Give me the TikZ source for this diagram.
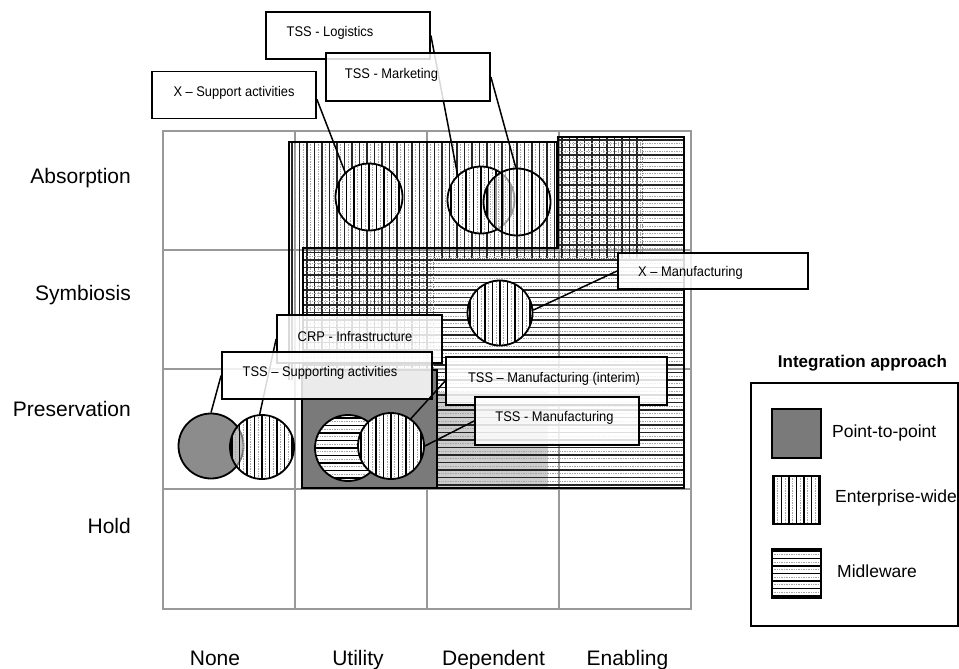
\documentclass[tikz,border=0pt]{standalone}
\usepackage{fontspec}
\setmainfont{Liberation Sans}
\newfontfamily\tagfont[FakeStretch=0.92]{Liberation Sans}
\usetikzlibrary{calc}

\tikzset{
  cell/.style={draw=gray!80, line width=1.6pt},
  zoneedge/.style={draw=black, line width=2.2pt},
  darkrule/.style={draw=black!85, line width=1.1pt},
  lightrule/.style={draw=gray!70, line width=0.7pt, densely dotted},
  tag/.style={draw=black, line width=1.8pt, fill=white, fill opacity=0.85, inner sep=0},
  tagtext/.style={font=\tagfont\fontsize{14}{16}\selectfont, inner sep=0},
  axislab/.style={font=\fontsize{21}{25}\selectfont, inner sep=0},
  keytext/.style={font=\fontsize{17.5}{20}\selectfont, inner sep=0, anchor=west},
  wire/.style={draw=black, line width=1.5pt},
  disc/.style={circle, draw=black, line width=1.8pt, inner sep=0, minimum size=#1},
  vfill/.style={path picture={
    \foreach \k in {-6,...,6}{
      \draw[black, line width=1.3pt]
        ([xshift={\k*7.5pt}]path picture bounding box.north) --
        ([xshift={\k*7.5pt}]path picture bounding box.south);
      \draw[lightrule]
        ([xshift={\k*7.5pt+3.75pt}]path picture bounding box.north) --
        ([xshift={\k*7.5pt+3.75pt}]path picture bounding box.south);
    }}},
  hfill/.style={path picture={
    \foreach \k in {-6,...,6}{
      \draw[black, line width=1.3pt]
        ([yshift={\k*7.5pt}]path picture bounding box.west) --
        ([yshift={\k*7.5pt}]path picture bounding box.east);
      \draw[lightrule]
        ([yshift={\k*7.5pt+3.75pt}]path picture bounding box.west) --
        ([yshift={\k*7.5pt+3.75pt}]path picture bounding box.east);
    }}},
  ptp/.style={fill=black!52},
}

\begin{document}
\begin{tikzpicture}[x=1pt, y=-1pt]
\useasboundingbox (0,0) rectangle (959,669);

% ---- 4 x 4 matrix ----
\draw[cell] (163,131) rectangle (691,609);
\foreach \gx in {295,427,559} \draw[cell] (\gx,131) -- (\gx,609);
\foreach \gy in {250,369,489} \draw[cell] (163,\gy) -- (691,\gy);

% ---- enterprise-wide zone (vertical rules) ----
\begin{scope}
  \clip (289,142) rectangle (558,248)
        (289,248) rectangle (433,380)
        (433,248) rectangle (642,258)
        (558,137) rectangle (642,258);
  \foreach \k in {0,...,47}{
    \draw[darkrule] ({292+7.5*\k},130) -- ++(0,260);
    \draw[lightrule] ({295.75+7.5*\k},130) -- ++(0,260);
  }
\end{scope}

% ---- midleware zone (horizontal rules) ----
\begin{scope}
  \clip (303,248) -- (558,248) -- (558,137) -- (684,137) -- (684,488)
        -- (437,488) -- (437,370) -- (303,370) -- cycle;
  \fill[gray!40] (437,392) rectangle (548,488);
  \foreach \k in {0,...,47}{
    \draw[darkrule] (300,{140+7.5*\k}) -- ++(390,0);
    \draw[lightrule] (300,{143.75+7.5*\k}) -- ++(390,0);
  }
\end{scope}
\draw[gray, densely dotted, line width=0.8pt] (433,488) -- (433,258) -- (684,258);
\draw[gray, densely dotted, line width=0.8pt] (642,139) -- (642,256);

% ---- zone outlines ----
\draw[zoneedge] (289,380) -- (289,142) -- (557,142) -- (557,248);
\draw[zoneedge] (303,370) -- (303,248) -- (558,248) -- (558,137)
      -- (684,137) -- (684,488) -- (437,488);
\draw[zoneedge, ptp] (302,370) rectangle (437,488);

% ---- initiatives ----
\node[disc=67pt, fill=white, vfill] (c1) at (369,197) {};
\node[disc=67pt, fill=white, vfill] (c2) at (481,200) {};
\node[disc=67pt, fill=white, fill opacity=0.6, vfill] (c3) at (517,202) {};
\node[disc=65pt, fill=white, vfill] (c4) at (500,313) {};
\node[disc=65pt, fill=black!45] (c5) at (211,446) {};
\node[disc=64pt, fill=white, fill opacity=0.45, vfill] (c6) at (262,447) {};
\node[disc=66pt, fill=white, hfill] (c7) at (348,448) {};
\node[disc=66pt, fill=white, vfill] (c8) at (391,446) {};

% ---- callouts ----
\node[tag, minimum width=164pt, minimum height=47pt] (supBox) at (234,95) {};
\node[tagtext] (supTxt) at (234,92.5) {X – Support activities};
\draw[wire] (supBox.-3.5) -- (c1.134);

\node[tag, minimum width=164pt, minimum height=47pt] (logBox) at (348,35.5) {};
\node[tagtext] (logTxt) at (330,33) {TSS - Logistics};
\draw[wire] (logBox.east) -- (c2.133);

\node[tag, minimum width=164pt, minimum height=48pt] (mktBox) at (408,77) {};
\node[tagtext] (mktTxt) at (391.5,75) {TSS - Marketing};
\draw[wire] (mktBox.east) -- (c3.92);

\node[tag, minimum width=190pt, minimum height=36pt] (xmfBox) at (713,271) {};
\node[tagtext] (xmfTxt) at (690.5,273) {X – Manufacturing};
\draw[wire] (xmfBox.west) -- (c4.5);

\node[tag, minimum width=165pt, minimum height=48pt] (crpBox) at (359.5,339) {};
\node[tagtext] (crpTxt) at (355,336.5) {CRP - Infrastructure};
\draw[wire] (crpBox.west) -- (c6.94);

\node[tag, minimum width=210pt, minimum height=47pt] (tsaBox) at (327,375.5) {};
\node[tagtext] (tsaTxt) at (320,372.5) {TSS – Supporting activities};
\draw[wire] (tsaBox.west) -- (c5.90);

\node[tag, minimum width=221pt, minimum height=48pt] (intBox) at (556.5,381) {};
\node[tagtext] (intTxt) at (554,379) {TSS – Manufacturing (interim)};
\draw[wire] (intBox.west) -- (c8.54);

\node[tag, minimum width=164pt, minimum height=48pt] (mfgBox) at (557,421) {};
\node[tagtext] (mfgTxt) at (554.5,417.5) {TSS - Manufacturing};
\draw[wire] (mfgBox.west) -- (c8.0);

% ---- axis labels ----
\node[axislab, anchor=base east] (rAbs) at (131,183) {Absorption};
\node[axislab, anchor=base east] (rSym) at (131,300) {Symbiosis};
\node[axislab, anchor=base east] (rPre) at (131,416) {Preservation};
\node[axislab, anchor=base east] (rHol) at (131,533) {Hold};

\node[axislab, anchor=base] (cNon) at (215,665) {None};
\node[axislab, anchor=base] (cUti) at (358,665) {Utility};
\node[axislab, anchor=base] (cDep) at (493.5,665) {Dependent};
\node[axislab, anchor=base] (cEna) at (627.5,665) {Enabling};

% ---- legend ----
\node[font=\fontsize{17}{20}\selectfont\bfseries, inner sep=0] (legTitle) at (862.5,363) {Integration approach};
\node[draw=black, line width=2pt, minimum width=207pt, minimum height=243pt, inner sep=0] (legFrame) at (854.5,504.5) {};
\node[draw=black, line width=1.8pt, ptp, minimum size=49pt, inner sep=0] (kP) at (796.5,433.5) {};
\node[draw=black, line width=1.8pt, vfill, minimum size=48pt, inner sep=0] (kE) at (796.5,500) {};
\node[draw=black, line width=1.8pt, hfill, minimum size=49pt, inner sep=0] (kM) at (796.5,573.5) {};
\node[keytext] (kPt) at (832,433) {Point-to-point};
\node[keytext] (kEt) at (835,498) {Enterprise-wide};
\node[keytext] (kMt) at (837,571) {Midleware};
\end{tikzpicture}
\end{document}
